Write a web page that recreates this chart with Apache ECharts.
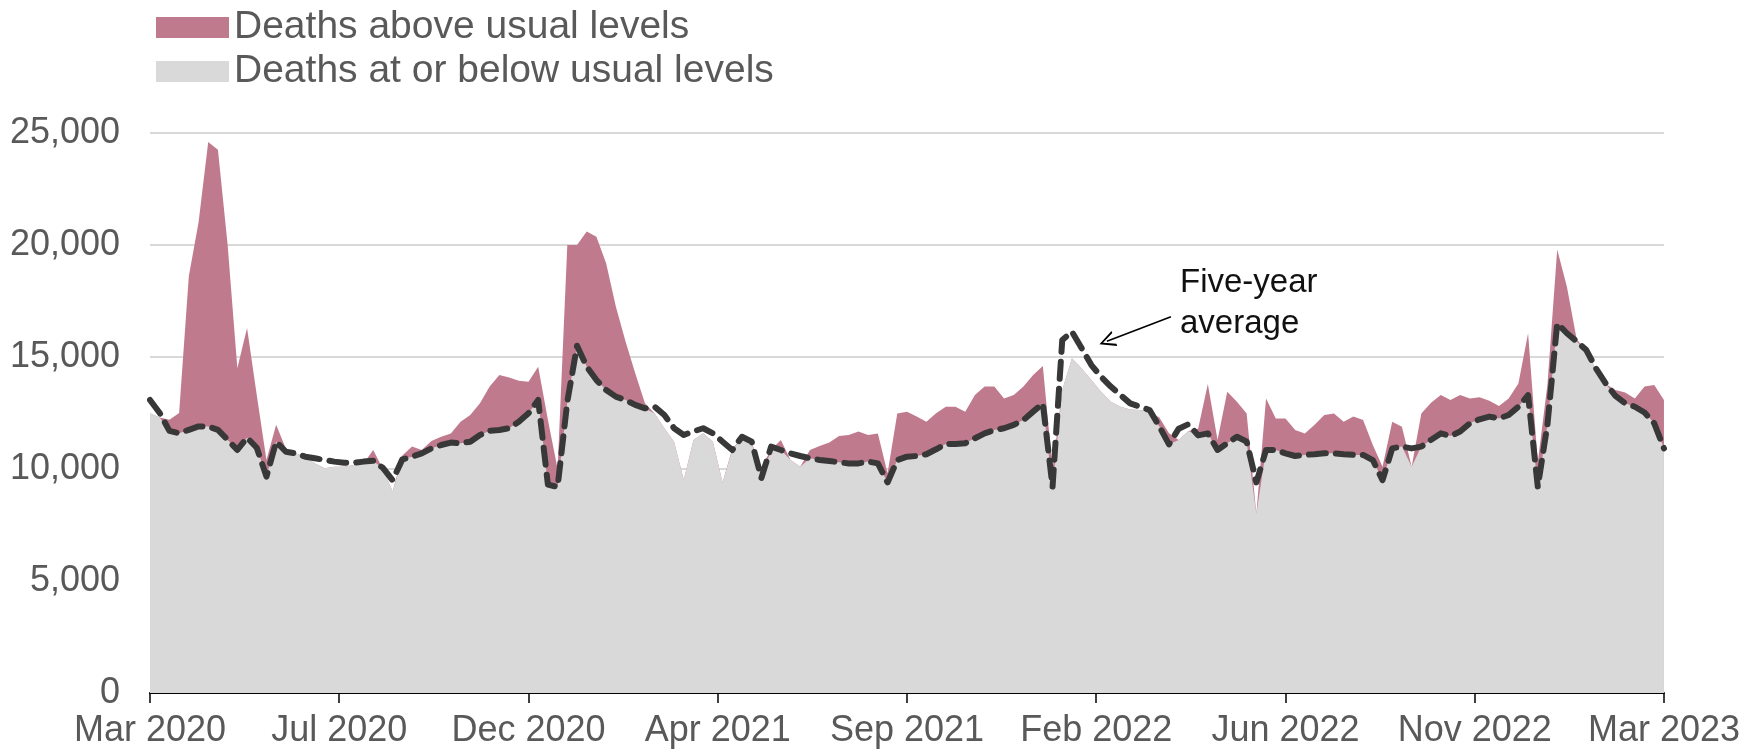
<!DOCTYPE html>
<html>
<head>
<meta charset="utf-8">
<script src="https://cdn.jsdelivr.net/npm/echarts@6/dist/echarts.min.js"></script>
<style>
  body { margin: 0; background: #fff; }
  #main { width: 1743px; height: 752px; }
</style>
</head>
<body>
<div id="main"></div>
<script>
// x axis tick labels, one every 19.5 weeks
var tickLabels = ['Mar 2020', 'Jul 2020', 'Dec 2020', 'Apr 2021', 'Sep 2021', 'Feb 2022', 'Jun 2022', 'Nov 2022', 'Mar 2023'];

// weekly deaths, Mar 2020 - Mar 2023
var deaths = [
  12490, 12300, 12200, 12500, 18600, 21000, 24600, 24250, 20000, 14500,
  16300, 13300, 10400, 11970, 10900, 10700, 10550, 10250, 10030, 10100,
  10100, 10180, 10250, 10850, 10000, 9000, 10600, 11000, 10850, 11250,
  11440, 11590, 12110, 12410, 12930, 13680, 14200, 14090, 13940, 13900,
  14570, 12200, 10000, 20000, 20000, 20600, 20370, 19180, 17250, 15690,
  14270, 12930, 12480, 11820, 11220, 9510, 11300, 11600, 11220, 9400,
  10900, 11370, 11150, 10100, 10850, 11300, 10400, 10100, 10850, 11030,
  11180, 11470, 11520, 11670, 11520, 11590, 9810, 12480, 12560, 12340,
  12110, 12490, 12780, 12780, 12560, 13300, 13680, 13680, 13150, 13300,
  13680, 14200, 14600, 10000, 13530, 14940, 14490, 13970, 13450, 13000,
  12780, 12660, 12630, 12560, 12300, 11600, 11300, 11700, 11800, 13800,
  11300, 13450, 13000, 12480, 8000, 13150, 12260, 12260, 11740, 11590,
  11970, 12410, 12480, 12110, 12340, 12190, 11070, 10100, 12110, 11890,
  10100, 12480, 12960, 13300, 13080, 13300, 13150, 13200, 13050, 12810,
  13150, 13820, 16060, 10300, 13800, 19800, 18140, 15800, 15260, 14440,
  13800, 13530, 13410, 13150, 13680, 13750, 13080
];

// five-year average
var average = [
  13080, 12500, 11700, 11600, 11750, 11900, 11900, 11750, 11300, 10850,
  11400, 10950, 9660, 11220, 10770, 10700, 10550, 10480, 10400, 10330,
  10280, 10280, 10330, 10370, 10050, 9500, 10430, 10550, 10700, 10920,
  11070, 11180, 11150, 11220, 11520, 11710, 11740, 11820, 12110, 12490,
  13080, 9300, 9200, 13000, 15500, 14570, 13970, 13530, 13230, 13080,
  12860, 12710, 12780, 12410, 11820, 11520, 11680, 11820, 11590, 11220,
  10850, 11440, 11220, 9600, 11000, 10850, 10700, 10580, 10480, 10400,
  10360, 10300, 10250, 10250, 10330, 10250, 9400, 10400, 10550, 10580,
  10660, 10880, 11120, 11120, 11150, 11370, 11590, 11740, 11820, 11970,
  12190, 12560, 12930, 9200, 15760, 16130, 15390, 14640, 14120, 13680,
  13300, 12930, 12780, 12630, 11900, 11100, 11800, 12000, 11500, 11590,
  10850, 11150, 11440, 11220, 9400, 10850, 10850, 10700, 10580, 10630,
  10660, 10700, 10700, 10660, 10630, 10630, 10400, 9500, 10920, 11000,
  10920, 11000, 11300, 11590, 11470, 11670, 12040, 12220, 12340, 12260,
  12410, 12780, 13300, 9200, 12000, 16500, 16060, 15700, 15310, 14490,
  13820, 13260, 12930, 12780, 12520, 12040, 10920
];

// maroon area = all deaths, grey area = part up to the average, drawn over it
var totalData = [], belowData = [], avgData = [];
for (var i = 0; i < deaths.length; i++) {
  totalData.push([i, deaths[i]]);
  belowData.push([i, Math.min(deaths[i], average[i])]);
  avgData.push([i, average[i]]);
}

var font = '"Liberation Sans", Arial, sans-serif';
var myChart = echarts.init(document.getElementById('main'));

var option = {
  animation: false,
  grid: { left: 150, right: 79, top: 133, bottom: 59 },
  legend: {
    orient: 'vertical',
    left: 151,
    top: 3,
    itemWidth: 73,
    itemHeight: 21,
    itemGap: 5,
    icon: 'rect',
    data: ['Deaths above usual levels', 'Deaths at or below usual levels'],
    textStyle: { fontFamily: font, fontSize: 39, lineHeight: 39, color: '#595959' }
  },
  xAxis: {
    type: 'value',
    min: 0,
    max: 156,
    interval: 19.5,
    axisLine: { lineStyle: { color: '#000', width: 2 } },
    axisTick: { length: 10, lineStyle: { color: '#000', width: 1.5 } },
    splitLine: { show: false },
    axisLabel: {
      margin: 20,
      fontFamily: font,
      fontSize: 36,
      color: '#595959',
      formatter: function (v) { return tickLabels[Math.round(v / 19.5)] || ''; }
    }
  },
  yAxis: {
    type: 'value',
    min: 0,
    max: 25000,
    interval: 5000,
    axisLine: { show: false },
    axisTick: { show: false },
    splitLine: { lineStyle: { color: '#d9d9d9', width: 2 } },
    axisLabel: {
      margin: 30,
      fontFamily: font,
      fontSize: 36,
      color: '#595959',
      formatter: function (v) { return v.toLocaleString('en-US'); }
    }
  },
  series: [{
    name: 'Deaths above usual levels',
    type: 'line',
    data: totalData,
    showSymbol: false,
    lineStyle: { width: 0 },
    itemStyle: { color: '#c07a8e' },
    areaStyle: { color: '#c07a8e', opacity: 1 }
  }, {
    name: 'Deaths at or below usual levels',
    type: 'line',
    data: belowData,
    showSymbol: false,
    lineStyle: { width: 0 },
    itemStyle: { color: '#d9d9d9' },
    areaStyle: { color: '#d9d9d9', opacity: 1 }
  }, {
    name: 'Five-year average',
    type: 'line',
    data: avgData,
    showSymbol: false,
    z: 5,
    lineStyle: { color: '#383838', width: 6, type: [17, 10], cap: 'round', join: 'round' },
    markLine: {
      silent: true,
      symbol: ['none', 'path://M5,0 L10,10 L8.6,10 L5,2.4 L1.4,10 L0,10 Z'],
      symbolSize: [16, 16],
      label: { show: false },
      lineStyle: { color: '#000', width: 1.5, type: 'solid' },
      data: [[{ coord: [105.2, 16800] }, { coord: [98.6, 15700] }]]
    }
  }],
  graphic: [{
    type: 'text',
    left: 1180,
    top: 262,
    style: {
      text: 'Five-year\naverage',
      font: '33px ' + font,
      lineHeight: 41,
      fill: '#111'
    }
  }]
};
myChart.setOption(option);
</script>
</body>
</html>
